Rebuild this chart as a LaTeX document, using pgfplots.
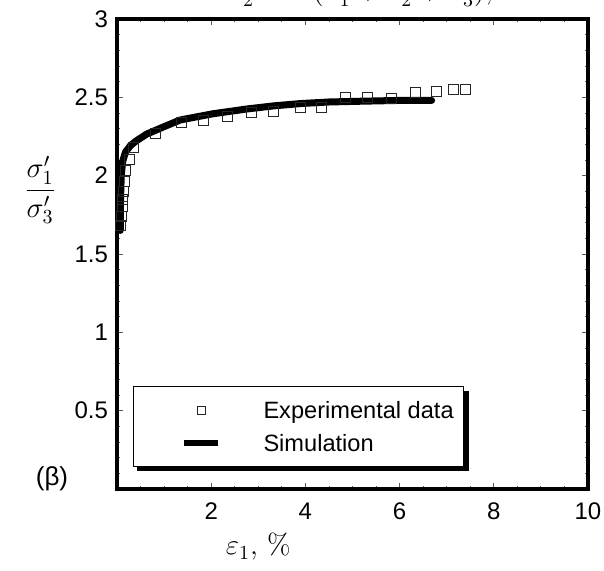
\documentclass[border=0pt]{standalone}
\usepackage{fontspec}
\newfontfamily\arial{Liberation Sans}
\usepackage{pgfplots}
\pgfplotsset{compat=1.18}
\usetikzlibrary{backgrounds}

\pgfplotsset{
  expleg/.style={legend image code/.code={\path (-22pt,0pt) (37.5pt,0pt); \draw[##1, mark size=2pt] plot coordinates {(8.5pt,0pt)};}},
  simleg/.style={legend image code/.code={\path[draw=none] (-22pt,0pt) (37.5pt,0pt); \path[fill=black, draw=none] (0pt,-1.5pt) rectangle (17pt,1.5pt);}},
}

\pgfplotstableread{
x y
0.08 1.68
0.10 1.74
0.11 1.80
0.12 1.85
0.135 1.90
0.15 1.96
0.19 2.03
0.26 2.10
0.36 2.18
0.81 2.27
1.37 2.34
1.83 2.35
2.35 2.38
2.86 2.40
3.33 2.41
3.89 2.435
4.35 2.435
4.86 2.50
5.31 2.50
5.83 2.49
6.33 2.53
6.79 2.54
7.14 2.55
7.40 2.55
}\expdata

\pgfplotstableread{
x y
0.07 1.65
0.075 1.85
0.09 2.00
0.12 2.09
0.18 2.15
0.28 2.19
0.40 2.22
0.63 2.265
0.98 2.31
1.34 2.355
2.04 2.395
2.75 2.425
3.32 2.445
3.90 2.46
4.50 2.47
5.20 2.475
6.00 2.48
6.68 2.48
}\simdata

\begin{document}
\begin{tikzpicture}
\begin{axis}[
  scale only axis, width=235.5pt, height=235pt,
  xmin=0, xmax=10, ymin=0, ymax=3,
  xtick={0,2,...,10}, xticklabels={,2,4,6,8,10},
  ytick={0,0.5,...,3}, yticklabels={,0.5,1,1.5,2,2.5,3},
  minor x tick num=3, minor y tick num=4,
  tick align=inside,
  major tick length=3pt, minor tick length=1.5pt,
  every tick/.style={black!65, line width=0.4pt},
  axis line style={line width=2pt},
  /pgf/number format/assume math mode=true,
  ticklabel style={font=\arial\fontsize{12}{14}\selectfont},
  xticklabel style={yshift=-3.5pt},
  yticklabel style={xshift=-1pt},
  clip=false,
  legend style={name=leg, at={(axis cs:0.34,0.656)}, anchor=north west,
    draw=black, line width=0.5pt, fill=white,
    font=\arial\fontsize{11.8}{13}\selectfont,
    inner xsep=3pt, inner ysep=5.4pt, row sep=3.9pt,
    nodes={inner ysep=2pt, text depth=0pt}},
  legend cell align=left,
]
\addplot[only marks, mark=square, mark size=2.5pt, mark options={draw=black!85, fill=white, line width=0.5pt}, expleg]
  table[x=x,y=y]{\expdata};
\addlegendentry{Experimental data}
\addplot[black, line width=3.5pt, line cap=round, line join=round, no marks, simleg]
  table[x=x,y=y]{\simdata};
\addlegendentry{Simulation}
\node at (axis cs:3.0,-0.37) {\fontsize{14.4}{17}\selectfont $\varepsilon_1$, \%};
\node at (axis cs:-1.63,1.91) {\fontsize{14.4}{17}\selectfont $\displaystyle\frac{\sigma_1'}{\sigma_3'}$};
\node at (axis cs:-1.38,0.064) {\arial\fontsize{13}{15}\selectfont (β)};
\node[anchor=base, inner sep=0pt] at (axis cs:5.16,3.124) {\fontsize{14.4}{17}\selectfont $\sigma_2' = \nu\,(\sigma_1' + \sigma_2' + \sigma_3')$,};
\coordinate (bbl) at (axis cs:-2.484,-0.522);
\coordinate (btr) at (axis cs:10.34,3.121);
\end{axis}
\begin{scope}[on background layer]
\fill[black] ([shift={(2.2pt,-2.2pt)}]leg.south west) rectangle ([shift={(2.2pt,-2.2pt)}]leg.north east);
\end{scope}
\pgfresetboundingbox
\useasboundingbox (bbl) rectangle (btr);
\end{tikzpicture}
\end{document}
